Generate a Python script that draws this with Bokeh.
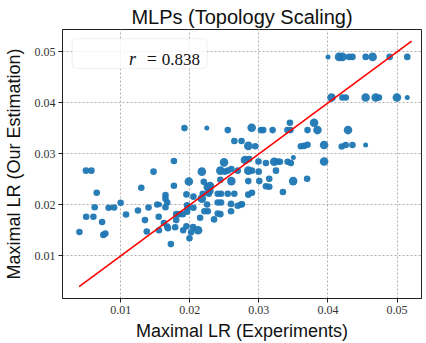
from bokeh.plotting import figure
from bokeh.models import FixedTicker, PrintfTickFormatter, BoxAnnotation, Label, ColumnDataSource, Range1d
from bokeh.embed import file_html
from bokeh.resources import INLINE

# ---- data ----
lr_experiments = [
    0.00404, 0.00498, 0.00577, 0.00501, 0.00606, 0.00654, 0.00625, 0.00732, 0.00750, 0.00779,
    0.00827, 0.00905, 0.01000, 0.01078, 0.01251, 0.01299, 0.01352, 0.01378, 0.01404, 0.01476,
    0.01530, 0.01563, 0.01551, 0.01554, 0.01626, 0.01649, 0.01649, 0.01649, 0.01674, 0.01674,
    0.01684, 0.01727, 0.01771, 0.01771, 0.01789, 0.01804, 0.01851, 0.01804, 0.01900, 0.01905,
    0.01924, 0.01952, 0.01952, 0.01962, 0.01973, 0.01962, 0.01987, 0.01996, 0.02020, 0.02053,
    0.02053, 0.02049, 0.02121, 0.02150, 0.02175, 0.02189, 0.02175, 0.02203, 0.02212, 0.02261,
    0.02247, 0.02251, 0.02261, 0.02294, 0.02276, 0.02284, 0.02352, 0.02405, 0.02405, 0.02405,
    0.02443, 0.02443, 0.02443, 0.02453, 0.02453, 0.02496, 0.02506, 0.02550, 0.02550, 0.02550,
    0.02602, 0.02602, 0.02597, 0.02597, 0.02645, 0.02645, 0.02694, 0.02694, 0.02742, 0.02749,
    0.02799, 0.02847, 0.02861, 0.02847, 0.02900, 0.02847, 0.02847, 0.02900, 0.02896, 0.02948,
    0.02994, 0.02997, 0.03006, 0.02756, 0.03030, 0.03063, 0.03199, 0.03413, 0.03456, 0.03449,
    0.03704, 0.03799, 0.03848, 0.04290, 0.03608, 0.03655, 0.03704, 0.03944, 0.04199, 0.04257,
    0.04354, 0.04545, 0.03102, 0.03222, 0.03271, 0.03304, 0.03416, 0.03463, 0.03499, 0.03944,
    0.03247, 0.03150, 0.03496, 0.03698, 0.03102, 0.03150, 0.03348, 0.04001, 0.04160, 0.04209,
    0.04304, 0.04354, 0.04545, 0.04646, 0.04892, 0.05147, 0.04051, 0.04209, 0.04257, 0.04545,
    0.04690, 0.04737, 0.04997, 0.05147,
]
lr_estimation = [
    0.01471, 0.02672, 0.02672, 0.01769, 0.01769, 0.02240, 0.01955, 0.01665, 0.01413, 0.01440,
    0.01944, 0.01950, 0.02041, 0.01814, 0.01891, 0.02337, 0.01703, 0.01479, 0.01950, 0.02653,
    0.02008, 0.02008, 0.01769, 0.01504, 0.01645, 0.02196, 0.02124, 0.01955, 0.02047, 0.01576,
    0.01543, 0.01233, 0.02860, 0.02376, 0.01562, 0.01820, 0.01820, 0.01703, 0.01820, 0.01504,
    0.03506, 0.02207, 0.01581, 0.01994, 0.01944, 0.01866, 0.02459, 0.01349, 0.01465, 0.02163,
    0.01944, 0.01568, 0.01504, 0.01750, 0.02653, 0.02221, 0.02124, 0.02453, 0.01878, 0.01878,
    0.03506, 0.02008, 0.02351, 0.02370, 0.02221, 0.02279, 0.01717, 0.02221, 0.02047, 0.01833,
    0.01820, 0.02672, 0.02492, 0.02221, 0.02047, 0.02835, 0.02653, 0.03467, 0.02672, 0.02221,
    0.02705, 0.02467, 0.02021, 0.01878, 0.03254, 0.02221, 0.02672, 0.01983, 0.02008, 0.03254,
    0.02880, 0.03157, 0.02899, 0.02672, 0.02672, 0.02467, 0.02202, 0.02240, 0.03514, 0.03151,
    0.02851, 0.02653, 0.02467, 0.02014, 0.03467, 0.03467, 0.03467, 0.03467, 0.03467, 0.03610,
    0.03467, 0.03610, 0.03467, 0.03467, 0.03151, 0.03157, 0.03180, 0.03176, 0.03145, 0.03176,
    0.03176, 0.03176, 0.02822, 0.02847, 0.02851, 0.02847, 0.02847, 0.02822, 0.02932, 0.02851,
    0.02672, 0.02512, 0.02467, 0.02512, 0.02366, 0.02357, 0.02254, 0.04901, 0.04901, 0.04901,
    0.04901, 0.04901, 0.04901, 0.04901, 0.04901, 0.04901, 0.04107, 0.04107, 0.04107, 0.04107,
    0.04107, 0.04107, 0.04107, 0.04107,
]
size_class = [
    "M", "M", "M", "M", "M", "M", "M", "M", "M", "M",
    "M", "M", "M", "M", "M", "M", "M", "M", "M", "M",
    "M", "S", "M", "M", "M", "M", "M", "M", "M", "M",
    "M", "M", "M", "M", "M", "M", "M", "M", "M", "M",
    "M", "M", "M", "M", "M", "M", "L", "M", "M", "M",
    "M", "M", "L", "M", "L", "M", "L", "M", "M", "M",
    "S", "M", "L", "L", "M", "L", "M", "M", "M", "M",
    "M", "L", "M", "M", "M", "L", "M", "M", "M", "M",
    "M", "L", "M", "M", "M", "M", "M", "M", "M", "M",
    "L", "L", "M", "L", "M", "M", "M", "M", "L", "M",
    "M", "M", "M", "M", "M", "M", "M", "M", "M", "M",
    "M", "L", "L", "L", "M", "M", "M", "L", "M", "M",
    "M", "S", "M", "L", "M", "M", "M", "M", "S", "L",
    "M", "M", "L", "M", "M", "M", "M", "S", "L", "L",
    "M", "M", "M", "L", "M", "M", "L", "M", "M", "L",
    "L", "M", "L", "S",
]
fit_x = [0.0040, 0.0521]
fit_y = [0.0040, 0.0521]
ticks = [0.01, 0.02, 0.03, 0.04, 0.05]
corr_symbol = "r"
corr_eq = "="
corr_value = "0.838"

# ---- styles ----
size_px = {"S": 5.0, "M": 6.6, "L": 8.6}

src = ColumnDataSource(dict(x=lr_experiments, y=lr_estimation,
                            s=[size_px[c] for c in size_class]))

p = figure(width=426, height=343, output_backend="svg", toolbar_location=None,
           x_range=Range1d(0.00159, 0.05353), y_range=Range1d(0.00167, 0.05438),
           min_border_left=61, min_border_right=5, min_border_top=29, min_border_bottom=42)

p.title.text = "MLPs (Topology Scaling)"
p.title.text_font = "Liberation Sans"
p.title.text_font_size = "20px"
p.title.text_font_style = "normal"
p.title.text_color = "#111111"
p.title.align = "center"
p.title.standoff = 3

p.background_fill_color = "white"
p.border_fill_color = "white"
p.outline_line_color = "#222222"
p.outline_line_width = 1
p.outline_line_alpha = 1

for ax in (p.xaxis[0], p.yaxis[0]):
    ax.ticker = FixedTicker(ticks=ticks)
    ax.formatter = PrintfTickFormatter(format="%.2f")
    ax.major_tick_in = 0
    ax.major_tick_out = 4
    ax.minor_tick_out = 0
    ax.minor_tick_in = 0
    ax.major_label_text_font = "Liberation Serif"
    ax.major_label_text_font_size = "12px"
    ax.major_label_text_color = "#333333"
    ax.axis_label_text_font = "Liberation Sans"
    ax.axis_label_text_font_size = "18px"
    ax.axis_label_text_font_style = "normal"
    ax.axis_label_text_color = "#111111"
    ax.axis_line_color = "#222222"
    ax.major_tick_line_color = "#222222"
    ax.major_label_standoff = 3

p.xaxis.axis_label = "Maximal LR (Experiments)"
p.yaxis.axis_label = "Maximal LR (Our Estimation)"
p.xaxis.axis_label_standoff = 4
p.yaxis.axis_label_standoff = 8

p.grid.ticker = FixedTicker(ticks=ticks)
for g in p.grid:
    g.grid_line_color = "#b0b0b0"
    g.grid_line_dash = "2 2"
    g.grid_line_width = 1

p.scatter("x", "y", size="s", source=src, color="#1f77b4", line_color=None, alpha=0.95)
p.line(fit_x, fit_y, line_color="red", line_width=1.6)

# legend-like box with correlation
p.add_layout(BoxAnnotation(left=0.00299, right=0.02251, bottom=0.04676, top=0.05258,
                           fill_color="white", fill_alpha=0.8,
                           line_color="#cccccc", line_width=1, border_radius=4))
p.add_layout(Label(x=0.01121, y=0.04851, text=corr_symbol, text_font="Liberation Serif",
                   text_font_style="italic", text_font_size="18px", text_color="#111111",
                   text_baseline="alphabetic", text_align="left"))
p.add_layout(Label(x=0.01451, y=0.04851, text=corr_eq, text_font="Liberation Serif",
                   text_font_size="18px", text_color="#111111",
                   text_baseline="alphabetic", text_align="center"))
p.add_layout(Label(x=0.02150, y=0.04851, text=corr_value, text_font="Liberation Serif",
                   text_font_size="17px", text_color="#111111",
                   text_baseline="alphabetic", text_align="right"))

open("out.html", "w").write(file_html(p, INLINE))
